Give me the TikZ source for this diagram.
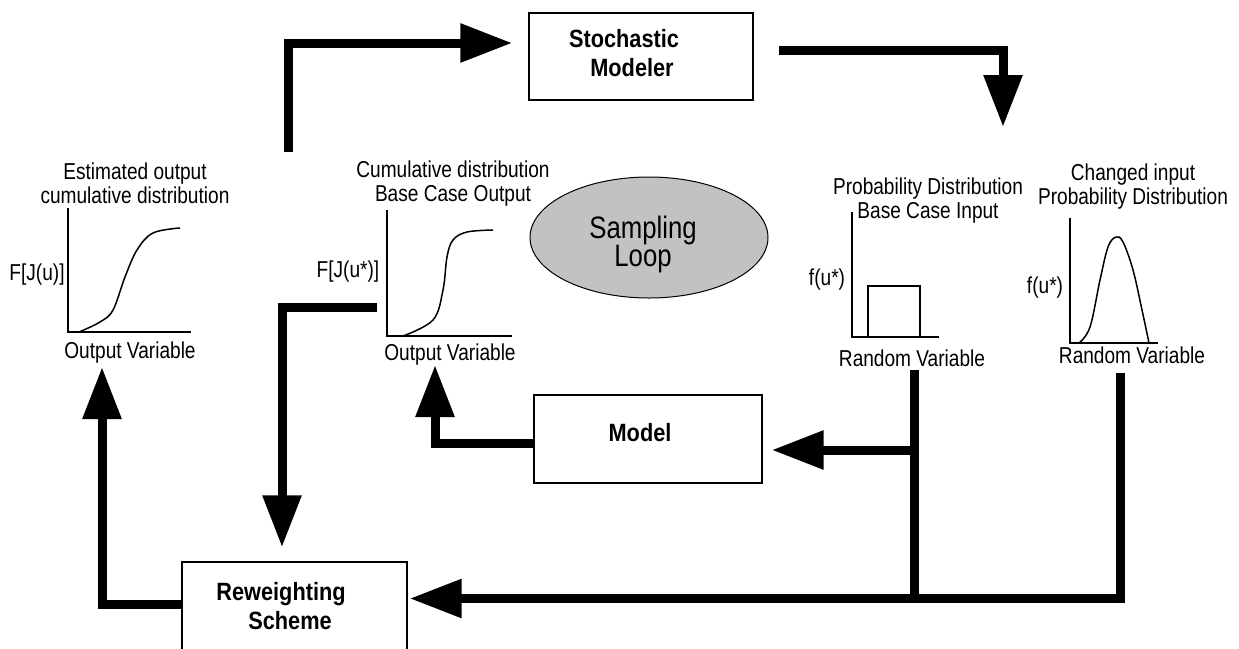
\documentclass[tikz,border=0pt]{standalone}
\usepackage{fontspec}
\setmainfont{Liberation Sans}
\newfontfamily\labfont[FakeStretch=0.83]{Liberation Sans}
\newfontfamily\boldlabfont[FakeStretch=0.87]{Liberation Sans Bold}
\usetikzlibrary{arrows.meta,shapes.geometric}
\definecolor{loopgray}{RGB}{194,194,194}
\begin{document}
\begin{tikzpicture}[x=1pt,y=-1pt,
  lab/.style={font=\labfont\fontsize{23}{24}\selectfont, align=center, inner sep=0pt},
  boldlab/.style={font=\boldlabfont\fontsize{25}{29}\selectfont, align=center, inner sep=0pt},
  looplab/.style={font=\labfont\fontsize{31}{28}\selectfont, align=center, inner sep=0pt},
  box/.style={draw, line width=1.4pt, inner sep=0pt},
  axisline/.style={line width=1.5pt},
  curveline/.style={line width=1.5pt},
  flow/.style={line width=9pt, line join=miter},
  flowarrow/.style={flow, -{Triangle[length=52pt,width=37pt]}},
]
\useasboundingbox (0,0) rectangle (1239,648);

% boxes
\node[box, minimum width=224pt, minimum height=87pt] (stoch) at (641,56.5) {};
\node[boldlab] (stocht) at (624,53) {Stochastic\\\hspace*{16pt}Modeler};
\node[box, minimum width=228pt, minimum height=88pt] (model) at (648,439) {};
\node[boldlab] (modelt) at (640,433) {Model};
\node[box, minimum width=225pt, minimum height=100pt] (rew) at (294.5,612) {};
\node[boldlab] (rewt) at (281,606) {Reweighting\\\hspace*{18pt}Scheme};
\node[ellipse, draw, fill=loopgray, line width=1pt, minimum width=238pt, minimum height=121pt, inner sep=0pt] (samp) at (649,237.5) {};
\node[looplab] (sampt) at (643,244) {Sampling\\Loop};

% left chart: estimated output
\node[lab] (t1) at (135,183) {Estimated output\\cumulative distribution};
\draw[axisline] (68,208) -- (68,332) -- (191,332);
\draw[curveline] plot[smooth, tension=0.6] coordinates {(79,332) (100,322) (113,310) (125,277) (137,250) (153,233) (180,228)};
\node[lab] (y1) at (37,275) {F[J(u)]};
\node[lab] (x1) at (130,353) {Output Variable};

% middle chart: base case output
\node[lab] (t2) at (453,184) {Cumulative distribution\\Base Case Output};
\draw[axisline] (387,210) -- (387,336) -- (512,336);
\draw[curveline] plot[smooth, tension=0.6] coordinates {(403,336) (433,320) (443,290) (447,257) (453,240) (467,232) (493,230)};
\node[lab] (y2) at (348,272) {F[J(u*)]};
\node[lab] (x2) at (450,355) {Output Variable};

% base case input
\node[lab] (t3) at (928,201) {Probability Distribution\\Base Case Input};
\draw[axisline] (852,212) -- (852,337) -- (939,337);
\draw[curveline] (868,337) -- (868,286) -- (920,286) -- (920,337);
\node[lab] (y3) at (827,280) {f(u*)};
\node[lab] (x3) at (912,358) {Random Variable};

% changed input
\node[lab] (t4) at (1133,187) {Changed input\\Probability Distribution};
\draw[axisline] (1070,218) -- (1070,343) -- (1158,343);
\draw[curveline] plot[smooth, tension=0.6] coordinates {(1079,343) (1090,327) (1100,280) (1108,247) (1116,237) (1123,242) (1133,270) (1142,310) (1149,343)};
\node[lab] (y4) at (1045,288) {f(u*)};
\node[lab] (x4) at (1132,355) {Random Variable};

% connector end points
\coordinate (e1) at (288,152);
\coordinate (pin) at (1003,127);
\coordinate (b1) at (914,370);
\coordinate (b2) at (1120,373);
\coordinate (j1) at (914,450);
\coordinate (ov2) at (435,365);
\coordinate (m1) at (377,307);
\coordinate (ov1) at (102,367);
\coordinate (b1end) at (b1 |- rew.east);

% connectors
\draw[flowarrow, shorten >=16pt] (e1) |- ([yshift=13.5pt]stoch.west);
\draw[flowarrow] ([xshift=25pt,yshift=6pt]stoch.east) -| (pin);
\draw[flowarrow, shorten >=2pt] (b2) |- ([yshift=13.5pt]rew.east);
\draw[flow] (b1) -- ([yshift=9pt]b1end);
\draw[flowarrow, shorten >=9pt] (j1) -- (j1 -| model.east);
\draw[flowarrow] ([yshift=-4pt]model.west) -| (ov2);
\draw[flowarrow, shorten >=14pt] (m1) -| ([xshift=-12.5pt]rew.north);
\draw[flowarrow] ([yshift=8pt]rew.west) -| (ov1);
\end{tikzpicture}
\end{document}
